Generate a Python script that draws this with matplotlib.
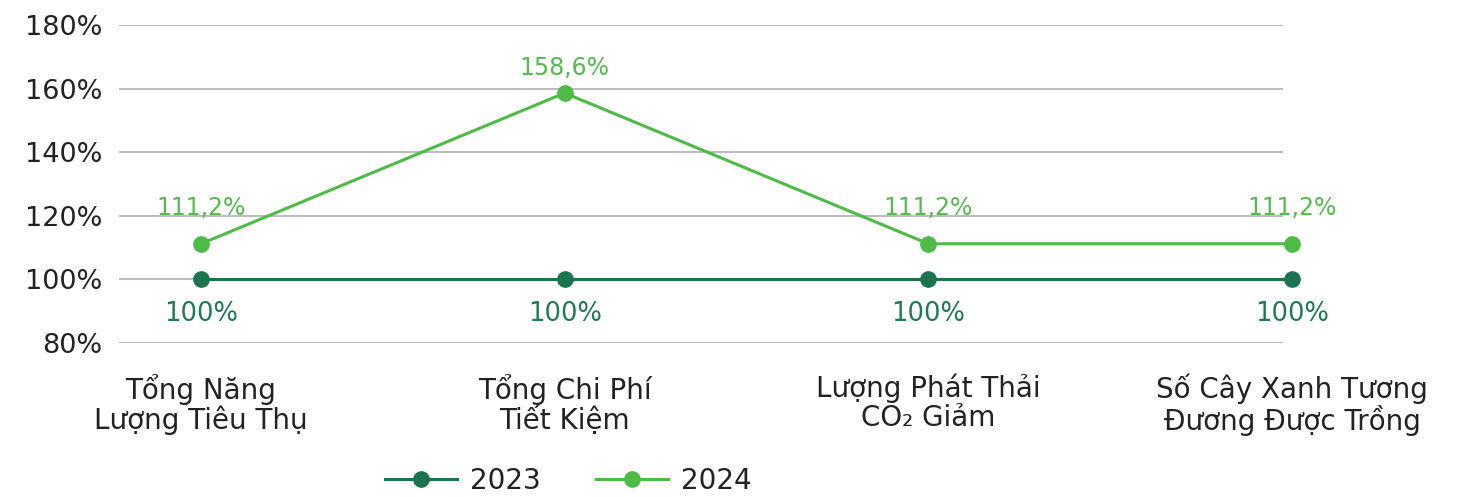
import matplotlib
matplotlib.use("Agg")
import matplotlib.pyplot as plt

plt.rcParams['font.family'] = ['DejaVu Sans']

categories = ["Tổng Năng\nLượng Tiêu Thụ", "Tổng Chi Phí\nTiết Kiệm",
              "Lượng Phát Thải\nCO₂ Giảm", "Số Cây Xanh Tương\nĐương Được Trồng"]
values_2023 = [100, 100, 100, 100]
values_2024 = [111.2, 158.6, 111.2, 111.2]
labels_2023 = ["100%", "100%", "100%", "100%"]
labels_2024 = ["111,2%", "158,6%", "111,2%", "111,2%"]
y_ticks = [80, 100, 120, 140, 160, 180]

dark_green = '#1b7350'
light_green = '#4dbb46'
text_color = '#222222'

fig = plt.figure(figsize=(14.65, 4.97), dpi=100)
ax = fig.add_axes([119 / 1465, 0.3099, (1292 - 119) / 1465, 0.9497 - 0.3099])

x = list(range(len(categories)))
# gridlines stop a bit short of the last category, like the original
ax.hlines(y_ticks, -0.2255, 2.975, color='#bdbdbd', lw=1.5, zorder=1)

ax.plot(x, values_2023, color=dark_green, lw=2.2, marker='o', ms=11,
        label='2023', clip_on=False, zorder=3)
ax.plot(x, values_2024, color=light_green, lw=2.2, marker='o', ms=11,
        label='2024', clip_on=False, zorder=4)

# data labels
for i in x:
    ax.annotate(labels_2023[i], (i, values_2023[i]), xytext=(0, -25),
                textcoords='offset points', ha='center', va='center',
                fontsize=18.5, color='#1e7a55', annotation_clip=False)
    off = 18 if values_2024[i] > 150 else 26
    ax.annotate(labels_2024[i], (i, values_2024[i]), xytext=(0, off),
                textcoords='offset points', ha='center', va='center',
                fontsize=17, color='#55bb4f', annotation_clip=False)

ax.set_yticks(y_ticks)
ax.set_yticklabels([f"{t}%" for t in y_ticks], fontsize=19.5, color=text_color)
ax.set_xticks(x)
ax.set_xticklabels(categories, fontsize=20, color=text_color, linespacing=1.05)
ax.set_ylim(80, 180)
ax.set_xlim(-0.2255, 3.0)
ax.tick_params(axis='both', length=0)
ax.tick_params(axis='y', pad=12)
ax.tick_params(axis='x', pad=22)
for s in ax.spines.values():
    s.set_visible(False)

fig.legend(loc='center', bbox_to_anchor=(568 / 1465, 1 - 481 / 497), ncol=2,
           frameon=False, fontsize=20, handlelength=2.6, columnspacing=2.0,
           handletextpad=0.45, labelcolor=text_color)

fig.savefig('out.png', dpi=100)
